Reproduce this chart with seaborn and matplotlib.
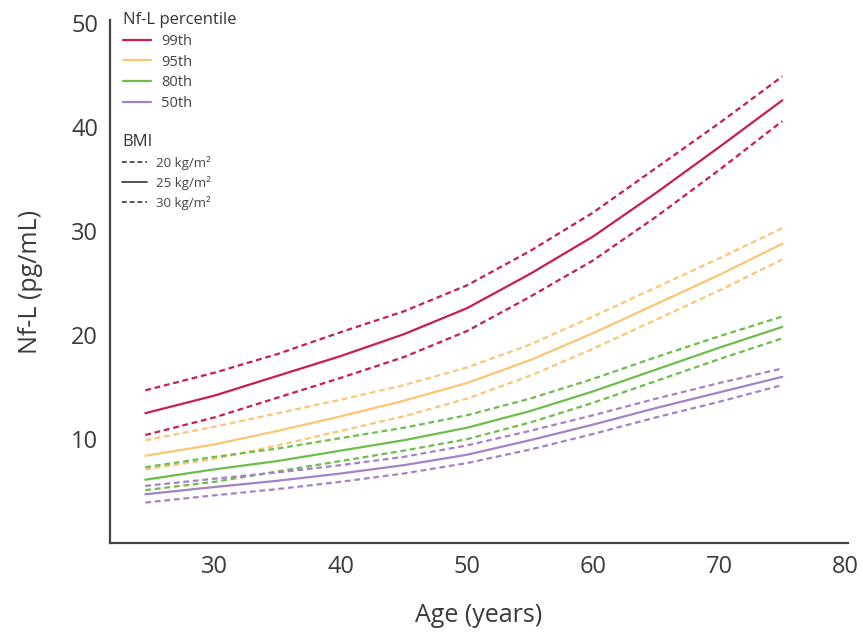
import pandas as pd
import seaborn as sns
import matplotlib
matplotlib.use('Agg')
import matplotlib.pyplot as plt
from matplotlib.lines import Line2D

# Values (Nf-L in pg/mL)
ages = [24.5, 30, 35, 40, 45, 50, 55, 60, 65, 70, 75]
percentiles = ['99th', '95th', '80th', '50th']
bmis = ['20 kg/m²', '25 kg/m²', '30 kg/m²']

p99_bmi20 = [14.7, 16.4, 18.2, 20.3, 22.3, 24.8, 28.1, 31.8, 36.1, 40.4, 44.9]
p99_bmi25 = [12.5, 14.2, 16.1, 18.0, 20.1, 22.6, 25.9, 29.5, 33.7, 38.1, 42.6]
p99_bmi30 = [10.4, 12.1, 14.0, 15.9, 17.9, 20.4, 23.7, 27.2, 31.4, 35.9, 40.6]

p95_bmi20 = [9.9, 11.2, 12.5, 13.8, 15.2, 16.9, 19.1, 21.8, 24.6, 27.4, 30.3]
p95_bmi25 = [8.4, 9.5, 10.8, 12.2, 13.7, 15.4, 17.6, 20.2, 23.0, 25.8, 28.8]
p95_bmi30 = [7.1, 8.1, 9.4, 10.8, 12.2, 13.9, 16.1, 18.7, 21.5, 24.3, 27.3]

p80_bmi20 = [7.3, 8.3, 9.1, 10.1, 11.1, 12.3, 13.9, 15.8, 17.9, 19.9, 21.8]
p80_bmi25 = [6.1, 7.1, 7.9, 8.9, 9.9, 11.1, 12.7, 14.6, 16.7, 18.8, 20.8]
p80_bmi30 = [5.1, 5.9, 6.9, 7.9, 8.9, 10.0, 11.6, 13.5, 15.6, 17.7, 19.7]

p50_bmi20 = [5.5, 6.2, 6.8, 7.5, 8.3, 9.4, 10.8, 12.3, 13.9, 15.4, 16.8]
p50_bmi25 = [4.7, 5.4, 6.0, 6.7, 7.5, 8.5, 9.9, 11.4, 13.0, 14.5, 16.0]
p50_bmi30 = [3.9, 4.6, 5.2, 5.9, 6.7, 7.7, 9.0, 10.5, 12.1, 13.6, 15.2]

series = {
    ('99th', '20 kg/m²'): p99_bmi20, ('99th', '25 kg/m²'): p99_bmi25, ('99th', '30 kg/m²'): p99_bmi30,
    ('95th', '20 kg/m²'): p95_bmi20, ('95th', '25 kg/m²'): p95_bmi25, ('95th', '30 kg/m²'): p95_bmi30,
    ('80th', '20 kg/m²'): p80_bmi20, ('80th', '25 kg/m²'): p80_bmi25, ('80th', '30 kg/m²'): p80_bmi30,
    ('50th', '20 kg/m²'): p50_bmi20, ('50th', '25 kg/m²'): p50_bmi25, ('50th', '30 kg/m²'): p50_bmi30,
}

rows = []
for (pct, bmi), vals in series.items():
    for a, v in zip(ages, vals):
        rows.append({'Age': a, 'NfL': v, 'Percentile': pct, 'BMI': bmi})
df = pd.DataFrame(rows)

colors = {'99th': '#c91d4e', '95th': '#fcc473', '80th': '#6dbd4a', '50th': '#a382c8'}
dash_style = {'20 kg/m²': (2.6, 1.7), '25 kg/m²': '', '30 kg/m²': (2.6, 1.7)}

sns.set_style('white')
plt.rcParams['font.family'] = ['Open Sans', 'DejaVu Sans']

fig = plt.figure(figsize=(8.63, 6.33), dpi=100)
ax = fig.add_axes([0.1275, 0.142, 0.855, 0.826])

sns.lineplot(data=df, x='Age', y='NfL', hue='Percentile', style='BMI',
             palette=colors, dashes=dash_style, linewidth=1.6,
             legend=False, ax=ax)

ax.set_xlim(21.7, 80.2)
ax.set_ylim(0, 50.3)
ax.set_xticks([30, 40, 50, 60, 70, 80])
ax.set_yticks([10, 20, 30, 40, 50])
ax.tick_params(axis='both', labelsize=17, colors='#333333', length=5, width=1, direction='out')
ax.tick_params(axis='both', labelcolor='#3a3a3a')
for s in ['top', 'right']:
    ax.spines[s].set_visible(False)
for s in ['left', 'bottom']:
    ax.spines[s].set_color('#444444')
    ax.spines[s].set_linewidth(1.6)

ax.set_xlabel('Age (years)', fontsize=18, color='#3a3a3a', labelpad=17)
ax.set_ylabel('Nf-L (pg/mL)', fontsize=18, color='#3a3a3a', labelpad=20)

pct_handles = [Line2D([], [], color=colors[p], lw=1.6) for p in percentiles]
leg1 = ax.legend(pct_handles, percentiles, title='Nf-L percentile', loc='upper left',
                 bbox_to_anchor=(0.0, 1.04), frameon=False, fontsize=10.5,
                 title_fontsize=12, handlelength=1.9, handletextpad=0.7,
                 labelspacing=0.38, alignment='left', labelcolor='#444444')
leg1.get_title().set_color('#333333')
ax.add_artist(leg1)

bmi_handles = [Line2D([], [], color='#444444', lw=1.3, ls=(0, (2.6, 1.7))),
               Line2D([], [], color='#444444', lw=1.3),
               Line2D([], [], color='#444444', lw=1.3, ls=(0, (2.6, 1.7)))]
leg2 = ax.legend(bmi_handles, bmis, title='BMI', loc='upper left',
                 bbox_to_anchor=(0.0, 0.805), frameon=False, fontsize=9.5,
                 title_fontsize=12, handlelength=1.9, handletextpad=0.7,
                 labelspacing=0.45, alignment='left', labelcolor='#444444')
leg2.get_title().set_color('#333333')

fig.savefig('out.png', dpi=100)
